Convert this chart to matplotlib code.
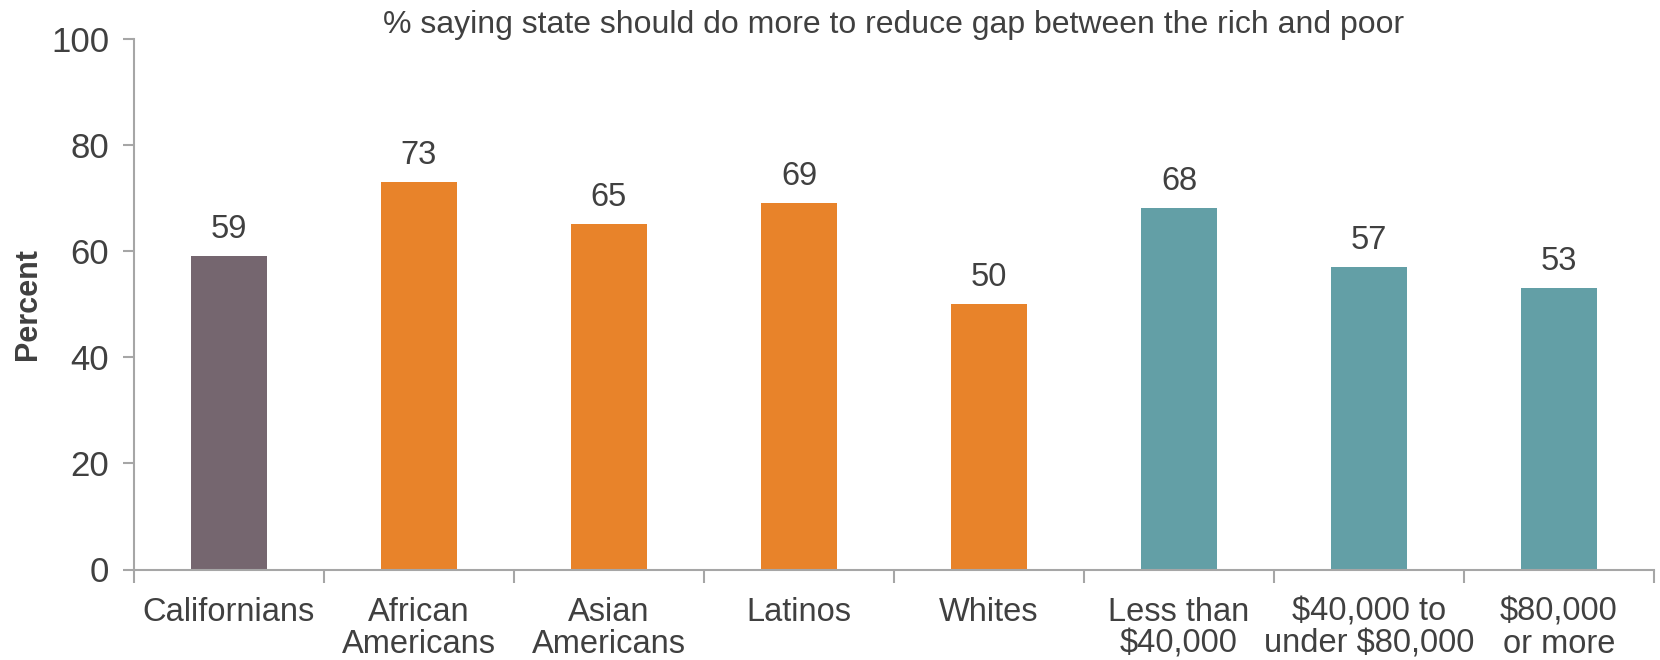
import matplotlib
matplotlib.use("Agg")
import matplotlib.pyplot as plt

categories = ["Californians", "African\nAmericans", "Asian\nAmericans", "Latinos", "Whites",
              "Less than\n$40,000", "$40,000 to\nunder $80,000", "$80,000\nor more"]
values = [59, 73, 65, 69, 50, 68, 57, 53]
bar_colors = ["#75666F", "#E8832A", "#E8832A", "#E8832A", "#E8832A", "#639FA6", "#639FA6", "#639FA6"]
yticks = [0, 20, 40, 60, 80, 100]
title = "% saying state should do more to reduce gap between the rich and poor"

plt.rcParams['font.family'] = ['Liberation Sans', 'DejaVu Sans']
text_color = "#404040"
spine_color = "#A6A6A6"

fig = plt.figure(figsize=(16.6, 6.6), dpi=100)
ax = fig.add_axes([134/1660, 1 - 569.5/660, (1654-134)/1660, (569.5-38.5)/660])

x = list(range(len(categories)))
bars = ax.bar(x, values, width=0.4, color=bar_colors)
for xi, v in zip(x, values):
    ax.annotate(str(v), (xi, v), xytext=(0, 8), textcoords="offset points",
                ha="center", va="bottom", fontsize=23.5, color=text_color)

ax.set_xlim(-0.5, len(categories) - 0.5)
ax.set_ylim(0, 100)
ax.set_yticks(yticks)
ax.set_yticklabels([str(t) for t in yticks], fontsize=25, color=text_color)
ax.set_xticks(x)
ax.set_xticklabels(categories, fontsize=23.5, color=text_color, linespacing=1.05)
ax.set_xticks([i - 0.5 for i in range(len(categories) + 1)], minor=True)
ax.tick_params(axis="x", which="major", length=0, pad=19.5)
ax.tick_params(axis="x", which="minor", length=9, width=1.5, color=spine_color, direction="out")
ax.tick_params(axis="y", length=8, width=1.5, color=spine_color, pad=10)

for s in ["top", "right"]:
    ax.spines[s].set_visible(False)
for s in ["left", "bottom"]:
    ax.spines[s].set_color(spine_color)
    ax.spines[s].set_linewidth(1.5)

ax.set_ylabel("Percent", fontsize=22, fontweight="bold", color=text_color, labelpad=6)
fig.text((134+1654)/2/1660, 1 - 25/660, title, ha="center", va="center", fontsize=23, color=text_color)

fig.savefig("out.png", dpi=100)
